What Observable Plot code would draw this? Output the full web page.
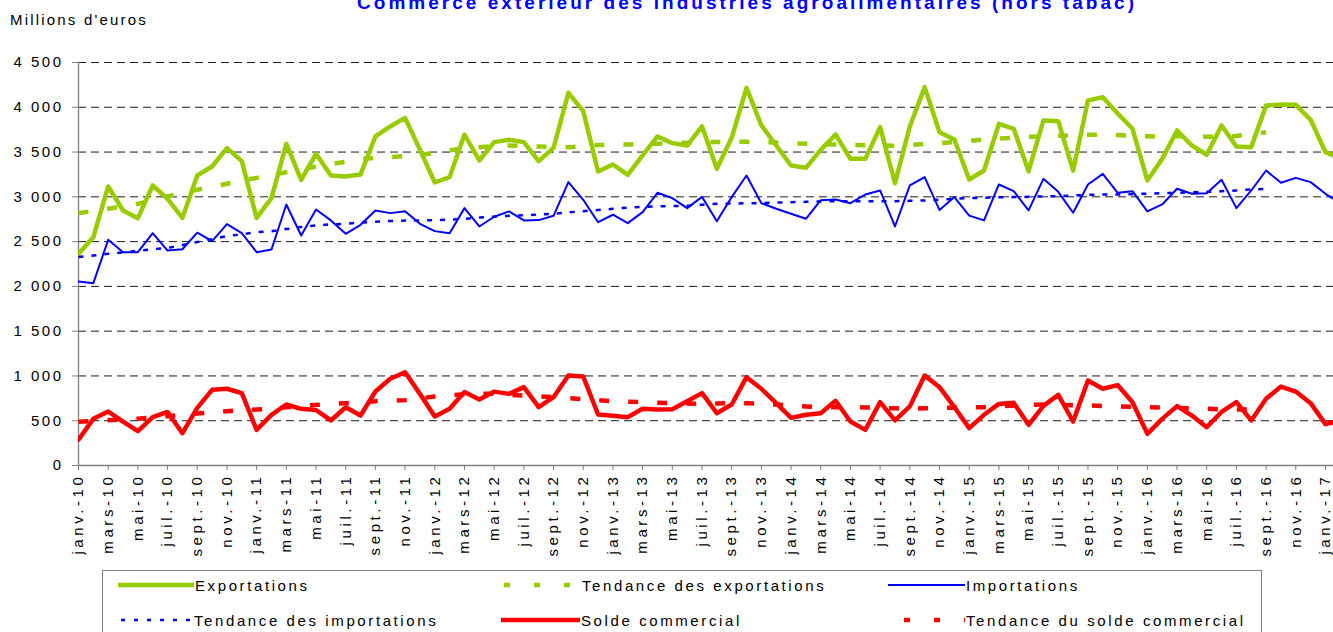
<!DOCTYPE html>
<html><head><meta charset="utf-8">
<script src="https://cdn.jsdelivr.net/npm/d3@7"></script>
<script src="https://cdn.jsdelivr.net/npm/@observablehq/plot@0.6"></script>
<style>
body{margin:0;background:#fff;width:1333px;height:632px;overflow:hidden;position:relative;font-family:"Liberation Sans",Arial,sans-serif;color:#000;}
#title{position:absolute;left:357px;top:-7px;white-space:nowrap;font-weight:bold;font-size:19px;line-height:19px;color:#0000FF;}
#ylab{position:absolute;left:10px;top:11px;white-space:nowrap;font-size:15px;line-height:17px;}
#chart{position:absolute;left:0;top:0;}
#chart svg{overflow:visible;}
#chart g[aria-label="y-axis tick label"] text{letter-spacing:2.5px;}
#chart g[aria-label="x-axis tick label"] text{letter-spacing:3.6px;}
#legend{position:absolute;left:102px;top:570px;width:1160px;height:80px;border:1px solid #808080;box-sizing:border-box;}
.item{position:absolute;height:20px;display:flex;align-items:center;white-space:nowrap;font-size:15px;letter-spacing:2.6px;}
.item svg{display:block;}
</style></head><body>
<div id="title">Commerce extérieur des industries agroalimentaires (hors tabac)</div>
<div id="ylab">Millions d'euros</div>
<div id="chart"></div>
<div id="legend"></div>
<script>
// ---- Data (millions d'euros), monthly janv.-10 .. févr.-17 ----
const moisNoms = ["janv.","févr.","mars","avr.","mai","juin","juil.","août","sept.","oct.","nov.","déc."];
const annees = ["10","11","12","13","14","15","16","17"];
const exportations = [2364,2550,3116,2848,2762,3127,2978,2765,3238,3339,3544,3399,
 2765,2985,3592,3190,3480,3238,3227,3250,3674,3786,3882,3525,
 3160,3220,3696,3406,3611,3637,3611,3399,3547,4161,3957,3283,
 3361,3246,3462,3674,3600,3573,3788,3313,3659,4217,3797,3573,
 3350,3324,3525,3696,3424,3424,3778,3153,3785,4225,3722,3640,
 3194,3294,3815,3759,3287,3853,3845,3294,4076,4113,3930,3760,
 3183,3424,3741,3573,3469,3797,3562,3555,4020,4031,4027,3860,
 3500,3430];
const importations = [2055,2036,2520,2382,2382,2594,2400,2415,2600,2505,2695,2594,
 2382,2412,2915,2568,2859,2737,2587,2688,2848,2818,2840,2699,
 2617,2594,2874,2669,2778,2837,2737,2740,2788,3164,2967,2717,
 2800,2706,2829,3045,2986,2874,3000,2728,2997,3238,2929,2867,
 2811,2755,2963,2971,2929,3026,3071,2669,3127,3220,2852,2997,
 2790,2737,3138,3063,2848,3201,3056,2822,3138,3257,3045,3063,
 2837,2915,3090,3034,3041,3190,2874,3071,3294,3157,3212,3164,
 3034,2930];
const solde = [287,521,603,491,383,540,598,361,644,845,857,808,
 398,565,681,633,620,503,651,558,826,968,1042,800,
 547,633,820,737,825,800,875,651,763,1005,994,570,
 555,540,633,625,629,718,808,584,681,986,857,696,
 532,566,584,722,491,398,707,503,660,1005,875,651,
 417,566,688,700,454,666,789,491,949,857,898,707,
 354,521,663,558,428,598,707,503,745,882,826,696,
 462,500];
const tendanceExport = [2818,2840,2866,2895,2922,2962,3005,3042,3079,3112,3146,3180,
 3212,3245,3275,3305,3339,3365,3390,3420,3435,3443,3455,3470,
 3490,3520,3540,3555,3565,3573,3568,3562,3558,3555,3565,3578,
 3582,3585,3590,3594,3600,3605,3610,3612,3614,3614,3610,3606,
 3600,3592,3588,3584,3580,3577,3573,3570,3580,3590,3600,3612,
 3625,3640,3652,3660,3670,3676,3682,3688,3692,3696,3690,3680,
 3676,3674,3676,3676,3672,3668,3680,3700,3722];
const tendanceImport = [2327,2345,2364,2380,2397,2413,2430,2462,2495,2528,2561,2583,
 2605,2615,2640,2663,2680,2692,2700,2712,2722,2730,2735,2737,
 2740,2744,2755,2768,2778,2789,2795,2800,2812,2826,2840,2852,
 2866,2880,2888,2893,2897,2900,2912,2922,2925,2928,2930,2935,
 2940,2944,2948,2952,2952,2952,2952,2952,2955,2960,2968,2978,
 2986,2990,2994,2997,3000,3004,3008,3015,3022,3026,3026,3030,
 3036,3040,3045,3050,3056,3062,3072,3082,3090];
const tendanceSolde = [489,497,505,514,522,536,551,566,581,594,607,616,
 625,636,650,664,677,687,696,707,718,724,730,750,
 771,785,795,800,800,790,782,772,763,752,741,730,
 718,712,707,701,696,692,688,692,696,696,690,680,
 670,660,651,651,651,648,644,638,633,640,642,645,
 648,651,660,670,677,681,678,672,670,665,659,655,
 651,648,644,638,633,628,625,625,625];
const yTicks = [0,500,1000,1500,2000,2500,3000,3500,4000,4500];
const yTickLabels = ["0","500","1 000","1 500","2 000","2 500","3 000","3 500","4 000","4 500"];

const categories = [];
for (const a of annees) for (const m of moisNoms) categories.push(m + "-" + a);

const series = [
  {name:"Exportations", values:exportations, color:"#99CC00", width:4.5, dash:null},
  {name:"Tendance des exportations", values:tendanceExport, color:"#99CC00", width:4.5, dash:"10,19"},
  {name:"Importations", values:importations, color:"#0000FF", width:2, dash:null},
  {name:"Tendance des importations", values:tendanceImport, color:"#0000FF", width:2.5, dash:"5,8"},
  {name:"Solde commercial", values:solde, color:"#FF0000", width:4.5, dash:null},
  {name:"Tendance du solde commercial", values:tendanceSolde, color:"#FF0000", width:4.5, dash:"10,19"}
];

const xTicks = d3.range(0, 85, 2);

const lineMarks = series.map(s => Plot.line(d3.range(s.values.length), {
  x: i => i, y: i => s.values[i], stroke: s.color, strokeWidth: s.width,
  strokeDasharray: s.dash || undefined, strokeLinecap: s.dash ? "butt" : "round",
  strokeLinejoin: "round", clip: true
}));

const chart = Plot.plot({
  width: 1333, height: 565,
  marginLeft: 78, marginRight: 0, marginTop: 62, marginBottom: 100,
  x: {type: "linear", domain: [0, 84.54]},
  y: {domain: [0, 4500]},
  style: {fontFamily: '"Liberation Sans", Arial, sans-serif', fontSize: "15px", color: "#000", background: "transparent"},
  marks: [
    Plot.ruleY(yTicks.filter(v => v > 0), {stroke: "#000", strokeOpacity: 0.9, strokeWidth: 1, strokeDasharray: "8,5"}),
    Plot.axisY(yTicks, {tickSize: 6, tickPadding: 9, stroke: "#808080", fill: "#000",
      tickFormat: v => yTickLabels[yTicks.indexOf(v)], label: null, fontSize: 15}),
    Plot.axisX(xTicks, {tickSize: 5, tickPadding: 3, tickRotate: -90, stroke: "#808080", fill: "#000",
      tickFormat: i => categories[i], label: null, fontSize: 15}),
    Plot.ruleX([0], {y1: 0, y2: 4500, stroke: "#808080", strokeWidth: 1.3}),
    Plot.ruleY([0], {stroke: "#808080", strokeWidth: 1.3}),
    ...lineMarks
  ]
});
document.getElementById("chart").appendChild(chart);

// Legend
const legend = document.getElementById("legend");
const pos = [
  {x: 15, y: 4, lw: 76}, {x: 390, y: 4, lw: 88}, {x: 785, y: 4, lw: 77},
  {x: 15, y: 39, lw: 75}, {x: 398, y: 39, lw: 79}, {x: 790, y: 39, lw: 72}
];
series.forEach((s, k) => {
  const p = pos[k];
  const div = document.createElement("div");
  div.className = "item";
  div.style.left = p.x + "px";
  div.style.top = p.y + "px";
  const dash = s.dash ? (s.width > 3 ? "6,24" : "4,9") : "";
  div.innerHTML = `<svg width="${p.lw}" height="10"><line x1="${s.dash ? 3 : 0}" y1="5" x2="${p.lw}" y2="5" stroke="${s.color}" stroke-width="${s.width}" ${dash ? `stroke-dasharray="${dash}" stroke-dashoffset="${s.width>3?-8:0}"` : ""}/></svg><span style="margin-left:1px">${s.name}</span>`;
  legend.appendChild(div);
});

// fit letter-spacing of title and unit label to reference widths
function fit(el, target) {
  el.style.letterSpacing = "0px";
  const w = el.getBoundingClientRect().width;
  const n = el.textContent.length;
  el.style.letterSpacing = ((target - w) / n) + "px";
}
fit(document.getElementById("title"), 780);
fit(document.getElementById("ylab"), 138);
</script>
</body></html>
